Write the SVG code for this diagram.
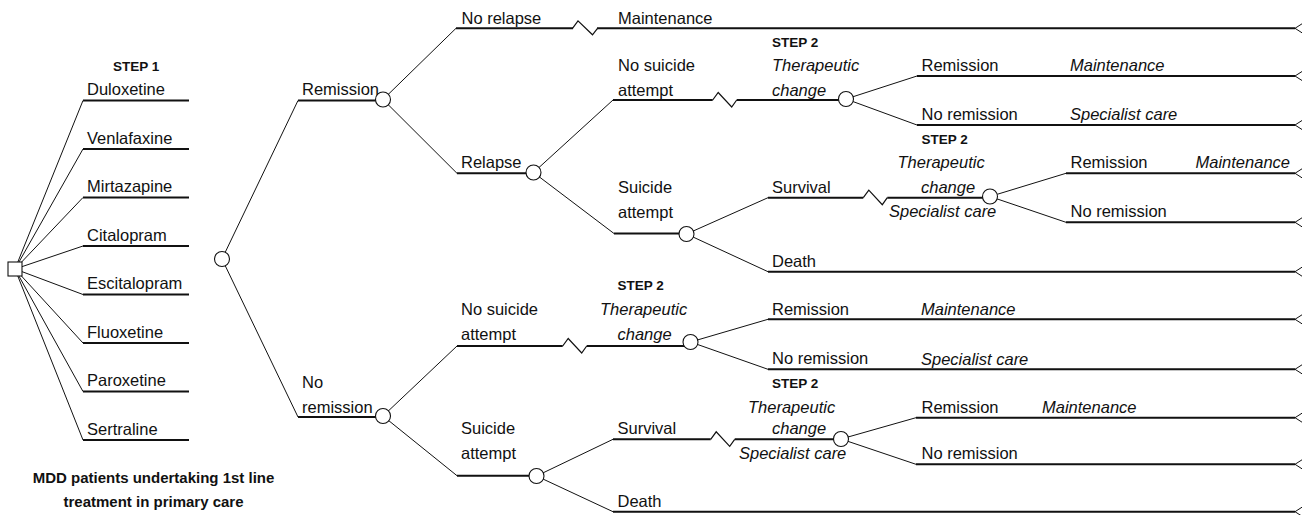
<svg xmlns="http://www.w3.org/2000/svg" width="1302" height="515" viewBox="0 0 1302 515">
<style>
text{font-family:"Liberation Sans",Arial,sans-serif;font-size:16.5px;fill:#111}
.b{font-weight:bold;font-size:13.5px}
.cap{font-weight:bold;font-size:15px;text-anchor:middle}
.i{font-style:italic}
.h{fill:none;stroke:#111;stroke-width:2}
.d{fill:none;stroke:#111;stroke-width:1}
.z{fill:none;stroke:#111;stroke-width:1.2}
.t{fill:none;stroke:#111;stroke-width:1}
.n{fill:#fff;stroke:#111;stroke-width:1.1}
</style>
<rect width="1302" height="515" fill="#fff"/>
<g id="connectors">
<path class="d" d="M15 269L83 100.5M15 269L83 149M15 269L83 197.5M15 269L83 246M15 269L83 294.5M15 269L83 343M15 269L83 391.5M15 269L83 440"/>
<path class="h" d="M83 100.5H189M83 149H189M83 197.5H189M83 246H189M83 294.5H189M83 343H189M83 391.5H189M83 440H189"/>
<path class="d" d="M222 259L298 100.5M222 259L298 417M383 99.5L456 28.3M383 99.5L457 173.3M383 416L457 346M383 416L457 475.7M533.5 172.5L613 100M533.5 172.5L614 233.5M686.5 234L768 197.7M686.5 234L768 271.7M846 99L917 76M846 99L917 125M990 196.5L1066 173.3M990 196.5L1066 222.3M690.5 342L768 319.3M690.5 342L768 369.3M536.5 476L613 439.3M536.5 476L613 511.7M841 439L916 417.7M841 439L916 464.3"/>
<path class="h" d="M298 100.5H383M298 417H383M456 28.3H573M597 28.3H1295M457 173.3H533.5M613 100H712.7M736.7 100H846M614 233.5H686.5M768 197.7H863.3M887.3 197.7H990M768 271.7H1295M917 76H1295M917 125H1295M1066 173.3H1295M1066 222.3H1295M457 346H562.7M586.7 346H690.5M768 319.3H1295M768 369.3H1295M457 475.7H536.5M613 439.3H710.7M734.7 439.3H841M613 511.7H1295M916 417.7H1295M916 464.3H1295"/>
<path class="z" d="M572.5 28.3L578 20.8L592.5 34.8L597.5 28.3M712.7 100L718.2 92.5L731.7 107L736.7 100M863.3 197.7L868.8 190.2L882.3 204.7L887.3 197.7M562.7 346L568.2 338.5L581.7 353L586.7 346M710.7 439.3L716.2 431.8L729.7 446.3L734.7 439.3"/>
<path class="t" d="M1302 23.8L1295 28.3L1302 32.8M1302 71.5L1295 76L1302 80.5M1302 120.5L1295 125L1302 129.5M1302 168.8L1295 173.3L1302 177.8M1302 217.8L1295 222.3L1302 226.8M1302 267.2L1295 271.7L1302 276.2M1302 314.8L1295 319.3L1302 323.8M1302 364.8L1295 369.3L1302 373.8M1302 413.2L1295 417.7L1302 422.2M1302 459.8L1295 464.3L1302 468.8M1302 507.2L1295 511.7L1302 516.2"/>
</g>
<g id="decision-step1">
<rect class="n" x="8" y="262" width="14" height="14"/>
<text class="b" x="113" y="70.5">STEP 1</text>
<text x="87" y="95">Duloxetine</text>
<text x="87" y="143.5">Venlafaxine</text>
<text x="87" y="192">Mirtazapine</text>
<text x="87" y="240.5">Citalopram</text>
<text x="87" y="289">Escitalopram</text>
<text x="87" y="337.5">Fluoxetine</text>
<text x="87" y="386">Paroxetine</text>
<text x="87" y="434.5">Sertraline</text>
<text class="cap" x="153.5" y="483.3">MDD patients undertaking 1st line</text>
<text class="cap" x="153.5" y="506.7">treatment in primary care</text>
</g>
<g id="chance-step1">
<circle class="n" cx="222" cy="259" r="7.5"/>
</g>
<g id="node-remission">
<text x="302" y="95">Remission</text>
<circle class="n" cx="383" cy="99.5" r="7.5"/>
<text x="461.5" y="23.5">No relapse</text>
<text x="618" y="23.5">Maintenance</text>
</g>
<g id="node-relapse">
<text x="461" y="168">Relapse</text>
<circle class="n" cx="533.5" cy="172.5" r="7.5"/>
</g>
<g id="node-relapse-no-suicide">
<text x="618" y="71">No suicide</text>
<text x="618" y="95.5">attempt</text>
<text class="b" x="772" y="46.5">STEP 2</text>
<text class="i" x="772" y="71">Therapeutic</text>
<text class="i" x="772" y="95.5">change</text>
<circle class="n" cx="846" cy="99" r="7.5"/>
<text x="921.5" y="71">Remission</text>
<text class="i" x="1070" y="71">Maintenance</text>
<text x="921.5" y="120">No remission</text>
<text class="i" x="1070" y="120">Specialist care</text>
</g>
<g id="node-relapse-suicide">
<text x="618" y="193">Suicide</text>
<text x="618" y="218">attempt</text>
<circle class="n" cx="686.5" cy="234" r="7.5"/>
<text x="772" y="193">Survival</text>
<text x="772" y="267">Death</text>
</g>
<g id="node-relapse-survival">
<text class="b" x="921.5" y="143.5">STEP 2</text>
<text class="i" x="897.5" y="168">Therapeutic</text>
<text class="i" x="921" y="192.5">change</text>
<text class="i" x="889" y="216.5">Specialist care</text>
<circle class="n" cx="990" cy="196.5" r="7.5"/>
<text x="1070.5" y="168">Remission</text>
<text class="i" x="1195.5" y="168">Maintenance</text>
<text x="1070.5" y="217">No remission</text>
</g>
<g id="node-no-remission">
<text x="302" y="388">No</text>
<text x="302" y="412.5">remission</text>
<circle class="n" cx="383" cy="416" r="7.5"/>
</g>
<g id="node-nr-no-suicide">
<text x="461" y="315">No suicide</text>
<text x="461" y="340">attempt</text>
<text class="b" x="617.5" y="290">STEP 2</text>
<text class="i" x="600" y="315">Therapeutic</text>
<text class="i" x="617.5" y="340">change</text>
<circle class="n" cx="690.5" cy="342" r="7.5"/>
<text x="772" y="315">Remission</text>
<text class="i" x="921" y="315">Maintenance</text>
<text x="772" y="364">No remission</text>
<text class="i" x="921" y="364.5">Specialist care</text>
</g>
<g id="node-nr-suicide">
<text x="461" y="434">Suicide</text>
<text x="461" y="459">attempt</text>
<circle class="n" cx="536.5" cy="476" r="7.5"/>
<text x="617.5" y="434">Survival</text>
<text x="617.5" y="506.5">Death</text>
</g>
<g id="node-nr-survival">
<text class="b" x="772" y="388">STEP 2</text>
<text class="i" x="748" y="412.5">Therapeutic</text>
<text class="i" x="772" y="434">change</text>
<text class="i" x="739" y="459">Specialist care</text>
<circle class="n" cx="841" cy="439" r="7.5"/>
<text x="921.5" y="412.5">Remission</text>
<text class="i" x="1042" y="412.5">Maintenance</text>
<text x="921.5" y="459">No remission</text>
</g>
</svg>
